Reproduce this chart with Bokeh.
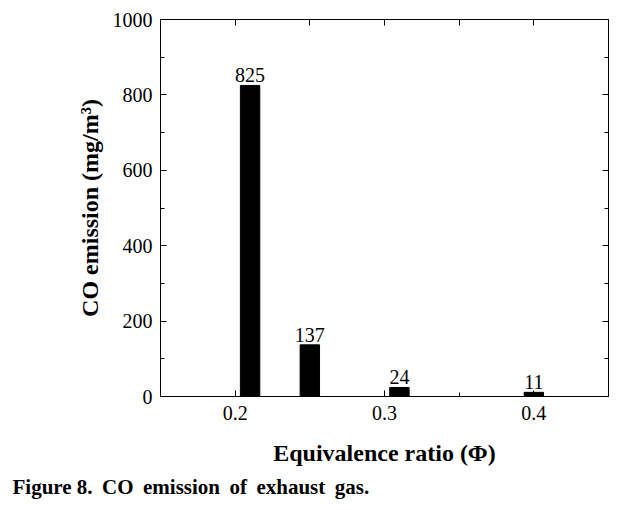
from bokeh.plotting import figure
from bokeh.models import (ColumnDataSource, LabelSet, LinearAxis, Title, Range1d,
                          FixedTicker, CustomJSTickFormatter)
from bokeh.embed import file_html
from bokeh.resources import INLINE

# data
phi = [0.21, 0.25, 0.31, 0.40]
co = [825, 137, 24, 11]
co_labels = ["825", "137", "24", "11"]
x_ticks = [0.2, 0.3, 0.4]
x_minor = [0.25, 0.35]
y_ticks = [0, 200, 400, 600, 800, 1000]
y_minor = [100, 300, 500, 700, 900]

FONT = "Liberation Serif"

src = ColumnDataSource(dict(x=phi, top=co, lab=co_labels))

p = figure(width=620, height=502, output_backend="svg", toolbar_location=None,
           x_range=Range1d(0.15, 0.45), y_range=Range1d(0, 1000),
           min_border_left=160, min_border_right=12, min_border_top=19,
           min_border_bottom=5, x_axis_label="Equivalence ratio (Φ)",
           y_axis_label="CO emission (mg/m³)")
p.grid.visible = False
p.background_fill_color = "white"
p.border_fill_color = "white"
p.outline_line_color = "black"
p.outline_line_width = 1

p.vbar(x="x", top="top", width=0.013, source=src, fill_color="black", line_color="black")
p.add_layout(LabelSet(x="x", y="top", text="lab", source=src, text_align="center",
                      text_baseline="bottom", y_offset=3, text_font=FONT,
                      text_font_size="20px", text_color="black"))

def style(ax, ticks, minor, labels=True):
    ax.ticker = FixedTicker(ticks=ticks, minor_ticks=minor)
    ax.major_tick_in = 6
    ax.major_tick_out = 0
    ax.minor_tick_in = 4
    ax.minor_tick_out = 0
    ax.axis_line_color = "black"
    ax.major_tick_line_color = "black"
    ax.minor_tick_line_color = "black"
    if labels:
        ax.major_label_text_font = FONT
        ax.major_label_text_font_size = "20px"
        ax.major_label_text_color = "black"
        ax.axis_label_text_font = FONT
        ax.axis_label_text_font_size = "24px"
        ax.axis_label_text_font_style = "bold"
        ax.axis_label_text_color = "black"
    else:
        ax.formatter = CustomJSTickFormatter(code="return '';")
        ax.major_label_text_font_size = "1px"
        ax.major_label_standoff = 0

xa = p.xaxis[0]
style(xa, x_ticks, x_minor)
xa.major_label_standoff = 9
xa.axis_label_standoff = 17
xa.formatter = CustomJSTickFormatter(code="return tick.toFixed(1);")

ya = p.yaxis[0]
style(ya, y_ticks, y_minor)
ya.major_label_standoff = 8
ya.axis_label_standoff = 7

top = LinearAxis()
style(top, x_ticks + x_minor, [], labels=False)
p.add_layout(top, "above")

right = LinearAxis()
style(right, y_ticks, y_minor, labels=False)
p.add_layout(right, "right")

sp = "\u2009 "
cap = Title(text="Figure 8." + sp + "CO" + sp + "emission" + sp + "of" + sp + "exhaust" + sp + "gas.",
            align="left", text_font=FONT, text_font_size="21px", text_font_style="bold",
            text_color="black", standoff=8, offset=-148)
p.add_layout(cap, "below")

open("out.html", "w").write(file_html(p, INLINE))
